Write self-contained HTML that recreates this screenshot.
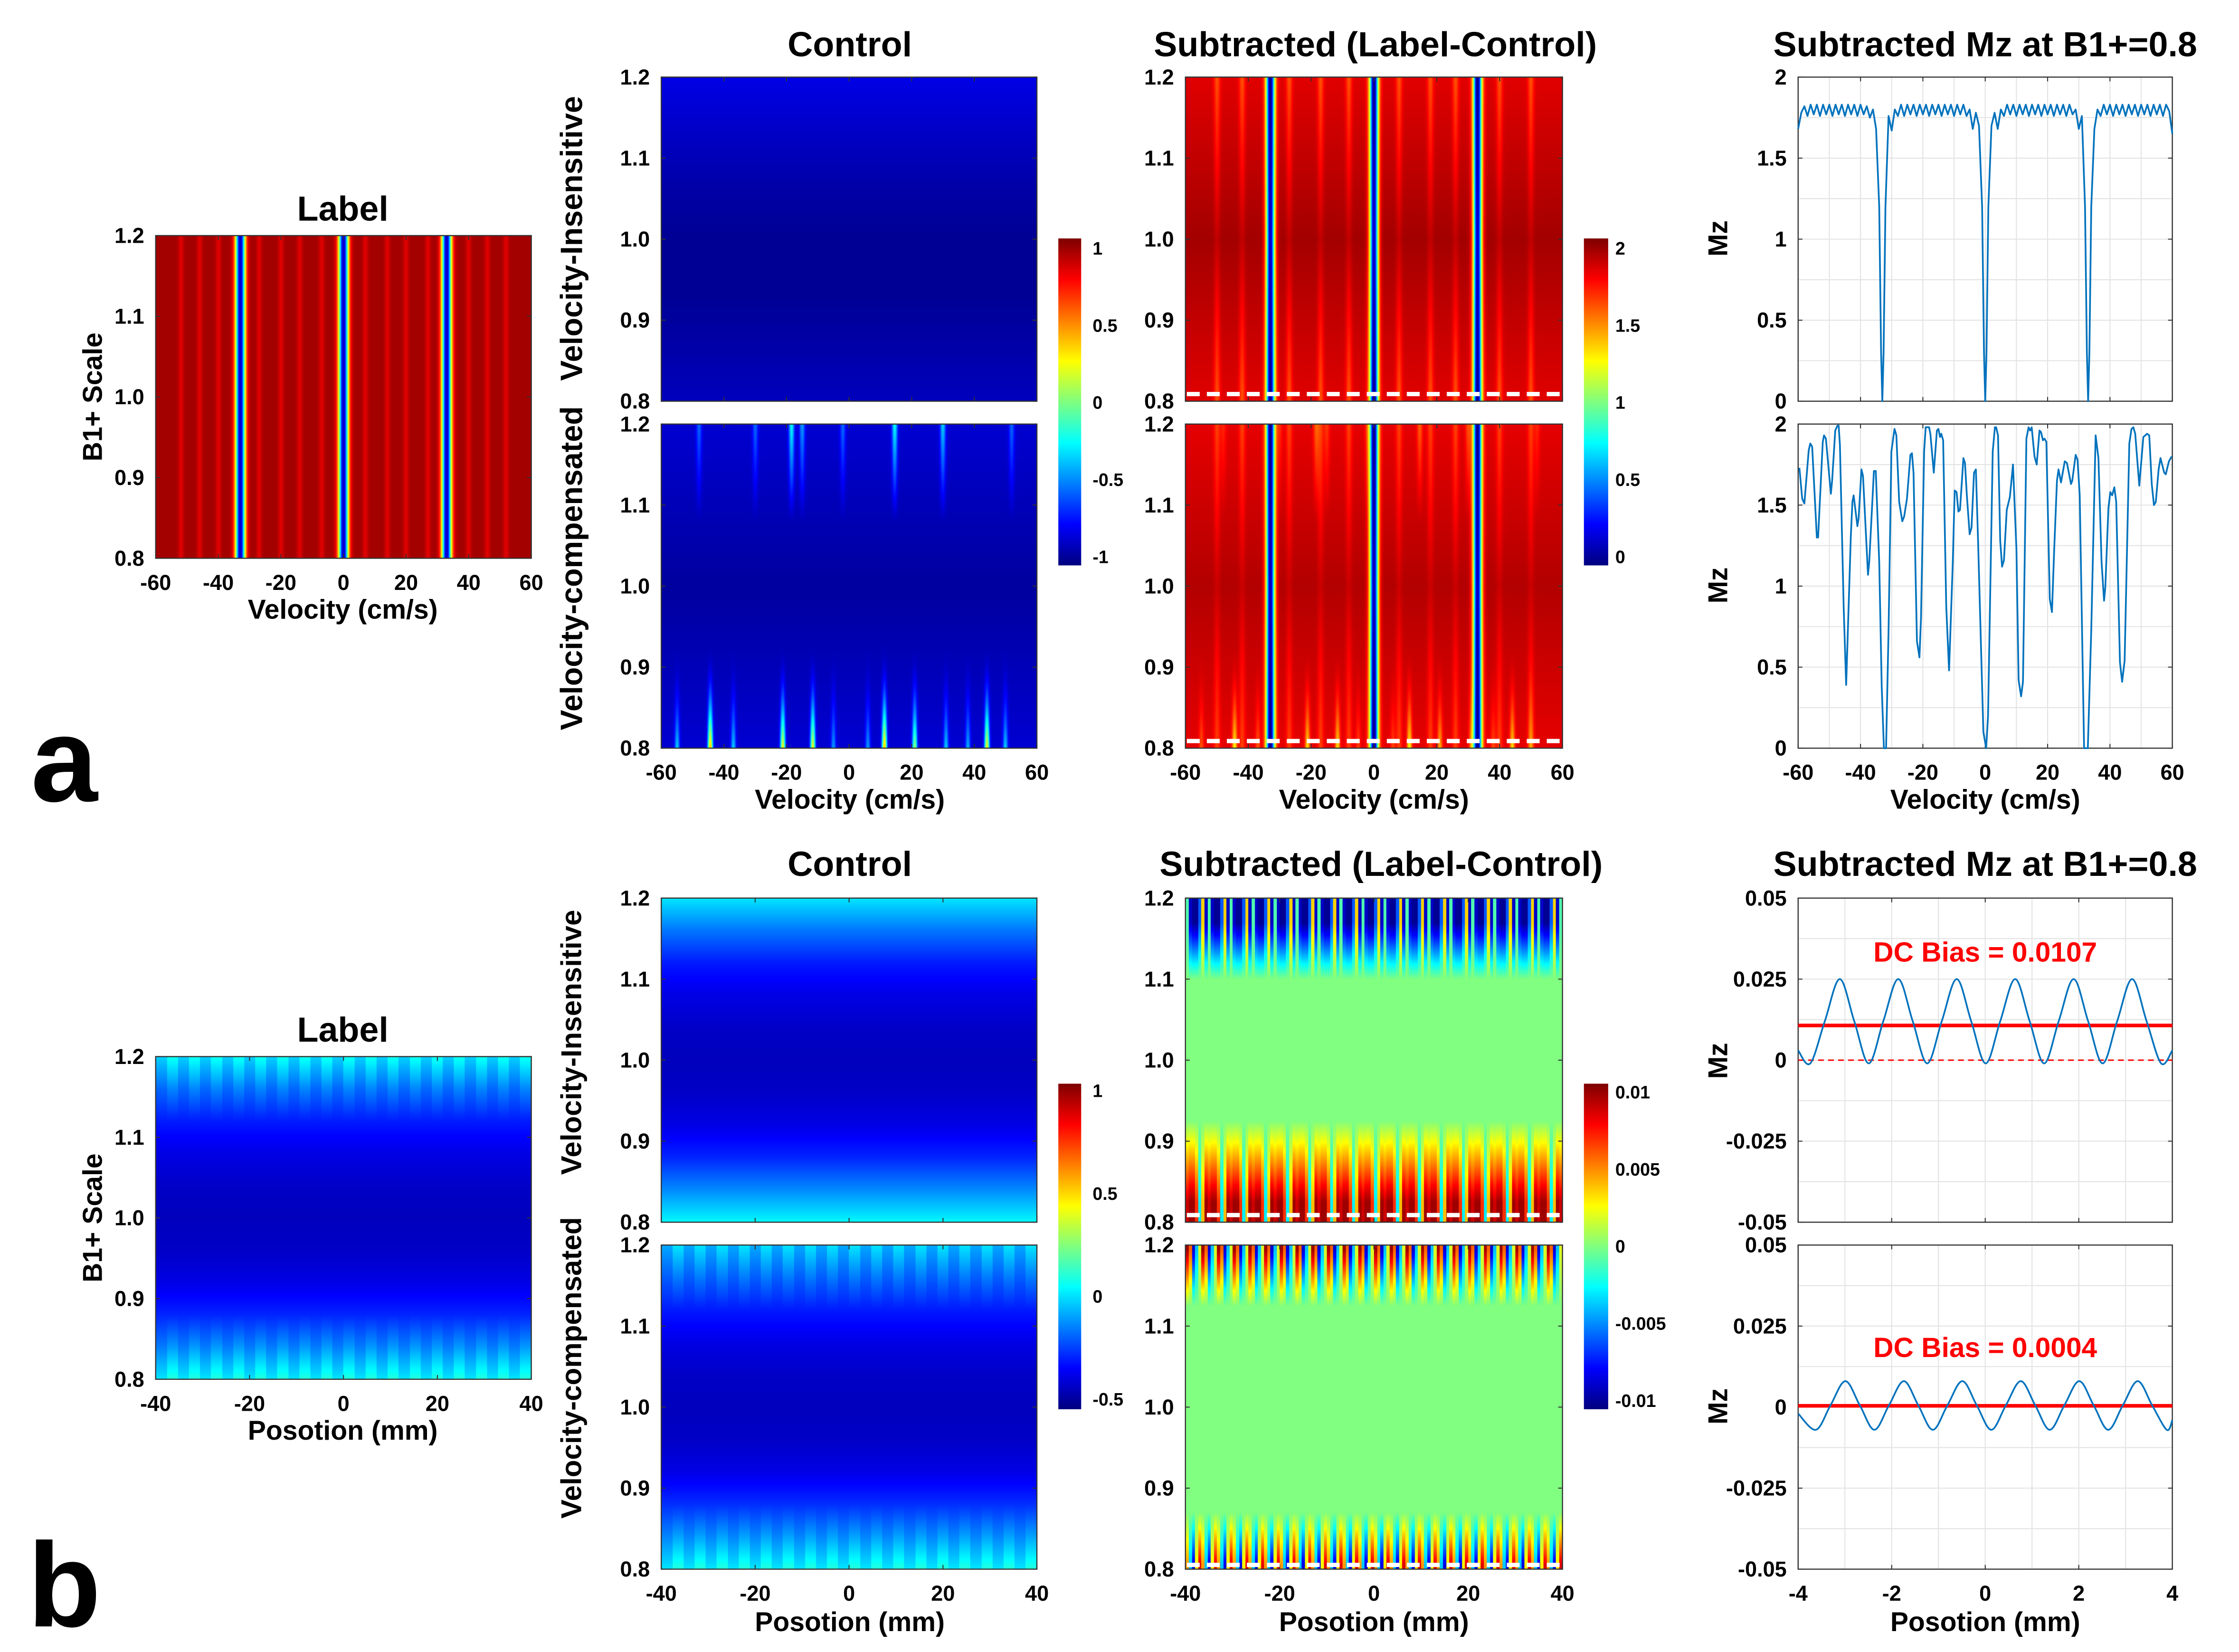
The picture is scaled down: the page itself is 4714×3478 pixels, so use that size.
<!DOCTYPE html>
<html><head><meta charset="utf-8">
<style>
html,body{margin:0;padding:0;background:#fff;overflow:hidden}
#root{position:absolute;left:0;top:0;width:1568px;height:1157px;transform-origin:0 0;transform:scale(3.007,3.006);background:#fff}
canvas{position:absolute}
svg{position:absolute;left:0;top:0}
text{font-family:"Liberation Sans",Arial,sans-serif;font-weight:bold;fill:#000}
</style></head>
<body>
<div id="root">
<svg id="ov" width="1568" height="1157" viewBox="0 0 1568 1157"></svg>
</div>
<script>
// ---------------- data arrays ----------------
const velStripes = [-33, 0, 33];
const labelRipples = [-52,-46,-40,-27,-20,-14,-7,7,14,20,27,40,46,52];
const ctrlTopRows = [0.1,0.07,0.04,0.02,0.02,0.04,0.06];
const ctrlBotSpikePos = [-44.4,-21.2,-11.6,11.3,21.0,44.1,-55,-37,-5,6,31,38,50];
const ctrlBotSpikeAmp = [0.62,0.55,0.55,0.62,0.45,0.55,0.25,0.25,0.2,0.2,0.25,0.22,0.25];
const ctrlTopSpikePos = [-18.4,14.6,30,-15,-48,-30,-2,52];
const ctrlTopSpikeAmp = [0.3,0.3,0.25,0.2,0.15,0.15,0.15,0.15];
const subStreakPos = [-50,-42,-27,-17,-8,8,18,26,40,50];
const bLabelRows = [0.36,0.24,0.15,0.1,0.07,0.06,0.07,0.1,0.16,0.26,0.38];
const bCtrlTopRows = [0.35,0.24,0.15,0.1,0.07,0.06,0.07,0.1,0.16,0.26,0.37];
const bCtrlBotRows = [0.32,0.23,0.15,0.1,0.07,0.06,0.07,0.1,0.17,0.27,0.38];
const bSubTopPatTop = [-0.1,-0.9,-1,-1,-0.6,0.35,-0.9];
const bSubTopPatBot = [0.9,1,1,0.7,-0.3,0.4,1];
const bSubBotPatTop = [1,0.6,-0.9,-0.4,0.2];
const bSubBotPatBot = [0.5,-0.4,-0.9,0.3,0.9];

// line plot data
const aTopX = [-60,-59,-58,-57,-56,-55,-54,-53,-52,-51,-50,-49,-48,-47,-46,-45,-44,-43,-42,-41,-40,-39,-38,-37,-36,-35,-34,-33.4,-33,-32.6,-32,-31,-30,-29,-28,-27,-26,-25,-24,-23,-22,-21,-20,-19,-18,-17,-16,-15,-14,-13,-12,-11,-10,-9,-8,-7,-6,-5,-4,-3,-2,-1,-0.4,0,0.4,1,2,3,4,5,6,7,8,9,10,11,12,13,14,15,16,17,18,19,20,21,22,23,24,25,26,27,28,29,30,31,32,32.6,33,33.4,34,35,36,37,38,39,40,41,42,43,44,45,46,47,48,49,50,51,52,53,54,55,56,57,58,59,60];
const aTopY = [1.68,1.78,1.82,1.76,1.83,1.77,1.83,1.76,1.83,1.77,1.83,1.76,1.83,1.77,1.83,1.76,1.83,1.77,1.83,1.76,1.83,1.77,1.82,1.75,1.80,1.68,1.2,0.3,0,0.3,1.2,1.76,1.67,1.8,1.76,1.83,1.76,1.83,1.77,1.83,1.76,1.83,1.77,1.83,1.76,1.83,1.77,1.83,1.76,1.83,1.77,1.83,1.76,1.83,1.77,1.83,1.76,1.8,1.68,1.78,1.7,1.2,0.3,0,0.3,1.2,1.7,1.78,1.68,1.8,1.76,1.83,1.77,1.83,1.76,1.83,1.77,1.83,1.76,1.83,1.77,1.83,1.76,1.83,1.77,1.83,1.76,1.83,1.77,1.83,1.76,1.83,1.77,1.8,1.68,1.76,1.2,0.3,0,0.3,1.2,1.68,1.8,1.76,1.83,1.77,1.83,1.76,1.83,1.77,1.83,1.76,1.83,1.77,1.83,1.76,1.83,1.77,1.83,1.76,1.83,1.77,1.83,1.76,1.83,1.79,1.65];
const aBotX = [-59.6,-58.7,-58.0,-56.6,-56.1,-55.5,-54.0,-53.6,-52.1,-51.7,-51.1,-49.5,-49.1,-48.1,-47.4,-47.0,-46.6,-45.4,-44.6,-43.1,-42.6,-42.2,-41.0,-40.6,-39.7,-39.2,-37.6,-37.2,-35.7,-35.1,-34.0,-33.2,-32.5,-31.8,-31.0,-30.1,-29.1,-28.5,-27.6,-26.6,-26.0,-25.1,-24.0,-23.5,-23.0,-21.9,-21.1,-20.6,-19.6,-19.1,-18.0,-17.6,-16.5,-15.5,-15.0,-14.5,-14.1,-13.5,-12.5,-11.6,-10.4,-9.8,-9.2,-8.6,-8.1,-7.0,-6.5,-5.9,-5.0,-4.4,-3.6,-3.0,-2.3,-0.6,0.3,0.9,2.4,3.1,3.5,4.1,4.8,5.4,6.0,6.9,7.9,8.9,10.0,10.7,11.5,12.1,13.2,13.9,14.4,14.9,15.8,16.5,17.4,17.9,18.5,19.0,19.6,20.7,21.4,22.1,23.0,23.5,24.3,25.5,26.2,27.5,27.9,29.0,29.6,30.3,31.7,32.9,34.0,35.4,36.3,37.3,38.1,38.5,39.5,40.1,40.7,41.4,42.0,43.2,43.9,44.7,46.2,46.9,47.5,48.1,49.4,50.7,51.9,52.6,53.4,54.1,54.7,55.6,56.2,57.4,57.9,58.9,59.8];
const aBotY = [1.73,1.54,1.51,1.84,1.88,1.86,1.30,1.30,1.89,1.93,1.91,1.57,1.65,1.96,1.99,1.99,1.87,0.87,0.39,1.31,1.52,1.56,1.37,1.42,1.72,1.68,1.07,1.15,1.71,1.71,1.15,0.38,0,0,0.73,1.83,1.97,1.93,1.52,1.40,1.43,1.54,1.81,1.82,1.70,0.66,0.56,0.80,1.83,1.98,1.98,1.94,1.70,1.96,1.97,1.92,1.94,1.90,0.87,0.48,1.15,1.59,1.58,1.46,1.47,1.79,1.76,1.56,1.32,1.36,1.70,1.72,1.28,0.10,0,0.20,1.83,1.98,1.98,1.93,1.28,1.12,1.16,1.47,1.55,1.75,1.23,0.42,0.32,0.41,1.91,1.98,1.96,1.98,1.80,1.75,1.96,1.95,1.90,1.91,1.89,0.92,0.84,1.22,1.65,1.72,1.64,1.77,1.76,1.63,1.65,1.81,1.78,1.56,0,0,0.73,1.93,1.79,1.15,0.91,0.99,1.48,1.58,1.56,1.61,1.52,0.53,0.41,0.54,1.88,1.97,1.98,1.94,1.62,1.92,1.94,1.93,1.63,1.50,1.52,1.72,1.79,1.70,1.69,1.77,1.80];
const bTopX = [-4,-3.74,-3.43,-3.11,-2.80,-2.49,-2.18,-1.86,-1.55,-1.24,-0.93,-0.61,-0.30,0.01,0.32,0.64,0.95,1.26,1.57,1.89,2.20,2.51,2.82,3.14,3.45,3.76,4];
const bTopY = [0.003,-0.001,0.012,0.025,0.012,-0.001,0.012,0.025,0.012,-0.001,0.012,0.025,0.012,-0.001,0.012,0.025,0.012,-0.001,0.012,0.025,0.012,-0.001,0.012,0.025,0.012,-0.001,0.003];
const bBotX = [-4,-3.62,-3.31,-2.99,-2.68,-2.37,-2.06,-1.74,-1.43,-1.12,-0.81,-0.49,-0.18,0.13,0.44,0.76,1.07,1.38,1.69,2.01,2.32,2.63,2.94,3.26,3.57,3.88,4];
const bBotY = [-0.002,-0.007,0.0005,0.008,0.0005,-0.007,0.0005,0.008,0.0005,-0.007,0.0005,0.008,0.0005,-0.007,0.0005,0.008,0.0005,-0.007,0.0005,0.008,0.0005,-0.007,0.0005,0.008,0.0005,-0.007,-0.004];
const dcBias = [0.0107, 0.0004];

const velTicks = [-60,-40,-20,0,20,40,60];
const posTicks = [-40,-20,0,20,40];
const mmTicks = [-4,-2,0,2,4];
const b1Ticks = [0.8,0.9,1.0,1.1,1.2];
const b1Labels = ["0.8","0.9","1.0","1.1","1.2"];
const aMzTicks = [0,0.5,1,1.5,2];
const aMzLabels = ["0","0.5","1","1.5","2"];
const bMzTicks = [-0.05,-0.025,0,0.025,0.05];
const bMzLabels = ["-0.05","-0.025","0","0.025","0.05"];
const cb1Labels = ["1","0.5","0","-0.5","-1"];
const cb2Labels = ["2","1.5","1","0.5","0"];
const cb3Labels = ["1","0.5","0","-0.5"];
const cb4Labels = ["0.01","0.005","0","-0.005","-0.01"];

// ---------------- helpers ----------------
const NS="http://www.w3.org/2000/svg";
const ov=document.getElementById('ov');
const root=document.getElementById('root');
const TICK=15;
function el(tag,attrs,parent){const e=document.createElementNS(NS,tag);for(const k in attrs)e.setAttribute(k,attrs[k]);(parent||ov).appendChild(e);return e;}
function txt(s,x,y,size,anchor,extra){const t=el('text',Object.assign({x:x,y:y,'font-size':size,'text-anchor':anchor||'middle','dominant-baseline':'central'},extra||{}));t.textContent=s;return t;}
function clamp(v){return v<0?0:v>1?1:v;}
function jet(t){t=clamp(t);return [clamp(1.5-Math.abs(4*t-3)),clamp(1.5-Math.abs(4*t-2)),clamp(1.5-Math.abs(4*t-1))];}
function g(d,w){return Math.exp(-(d/w)*(d/w));}
function interpRows(rows,fy){const p=fy*(rows.length-1);const i=Math.min(rows.length-2,Math.floor(p));const f=p-i;return rows[i]*(1-f)+rows[i+1]*f;}

function heat(name,box,xr,fn){
  const S=3;const c=document.createElement('canvas');
  c.width=box.w*S;c.height=box.h*S;
  c.style.left=box.x+'px';c.style.top=box.y+'px';c.style.width=box.w+'px';c.style.height=box.h+'px';
  
  
  root.insertBefore(c,ov);
  const ctx=c.getContext('2d');const img=ctx.createImageData(c.width,c.height);
  for(let j=0;j<c.height;j++){const fy=j/(c.height-1);const y=1.2-0.4*fy;
    for(let i=0;i<c.width;i++){const x=xr[0]+(xr[1]-xr[0])*i/(c.width-1);
      const col=jet(fn(x,y,fy));const k=(j*c.width+i)*4;
      img.data[k]=col[0]*255;img.data[k+1]=col[1]*255;img.data[k+2]=col[2]*255;img.data[k+3]=255;}}
  ctx.putImageData(img,0,0);
}
function axesFrame(name,box,xr,xticks,xlabels,yr,yticks,ylabels,grid,showX){
  const gEl=el('g',{});
  
  
  const sx=v=>box.x+(v-xr[0])/(xr[1]-xr[0])*box.w;
  const sy=v=>box.y+box.h-(v-yr[0])/(yr[1]-yr[0])*box.h;
  if(grid){
    const xs=[];for(let i=0;i<xticks.length-1;i++){xs.push(xticks[i]);xs.push((xticks[i]+xticks[i+1])/2);}
    const ys=[];for(let i=0;i<yticks.length-1;i++){ys.push(yticks[i]);ys.push((yticks[i]+yticks[i+1])/2);}
    xs.forEach(v=>el('line',{x1:sx(v),x2:sx(v),y1:box.y,y2:box.y+box.h,stroke:'#e3e3e3','stroke-width':0.7},gEl));
    ys.forEach(v=>el('line',{x1:box.x,x2:box.x+box.w,y1:sy(v),y2:sy(v),stroke:'#e3e3e3','stroke-width':0.7},gEl));
  }
  el('rect',{x:box.x,y:box.y,width:box.w,height:box.h,fill:'none',stroke:'#333','stroke-width':0.8},gEl);
  xticks.forEach(v=>{el('line',{x1:sx(v),x2:sx(v),y1:box.y+box.h,y2:box.y+box.h-3,stroke:'#333','stroke-width':0.7},gEl);el('line',{x1:sx(v),x2:sx(v),y1:box.y,y2:box.y+3,stroke:'#333','stroke-width':0.7},gEl);});
  yticks.forEach((v,i)=>{el('line',{x1:box.x,x2:box.x+3,y1:sy(v),y2:sy(v),stroke:'#333','stroke-width':0.7},gEl);el('line',{x1:box.x+box.w,x2:box.x+box.w-3,y1:sy(v),y2:sy(v),stroke:'#333','stroke-width':0.7},gEl);
    const t=txt(ylabels[i],box.x-8,sy(v),TICK,'end');});
  if(showX){xticks.forEach((v,i)=>{const t=txt(xlabels[i],sx(v),box.y+box.h+17,TICK,'middle');});}
  return {sx,sy};
}
function smoothPath(xs,ys,sx,sy){
  const P=xs.map((x,i)=>[sx(x),sy(ys[i])]);let d='M'+P[0][0]+','+P[0][1];
  for(let i=0;i<P.length-1;i++){const p0=P[Math.max(0,i-1)],p1=P[i],p2=P[i+1],p3=P[Math.min(P.length-1,i+2)];
    const c1=[p1[0]+(p2[0]-p0[0])/6,p1[1]+(p2[1]-p0[1])/6],c2=[p2[0]-(p3[0]-p1[0])/6,p2[1]-(p3[1]-p1[1])/6];
    d+=' C'+c1[0]+','+c1[1]+' '+c2[0]+','+c2[1]+' '+p2[0]+','+p2[1];}
  return d;
}
function linePlot(name,box,xr,xticks,yr,yticks,ylabels,xs,ys,showX,smooth){
  const a=axesFrame(name+'-axes',box,xr,xticks,xticks.map(String),yr,yticks,ylabels,true,showX);
  const d=smooth?smoothPath(xs,ys,a.sx,a.sy):'M'+xs.map((x,i)=>a.sx(x)+','+a.sy(ys[i])).join(' L');
  const p=el('path',{d:d,fill:'none',stroke:'#0072bd','stroke-width':1.2,'stroke-linejoin':'round'});
  
  
  return a;
}
function colorbar(name,box){
  const S=3;const c=document.createElement('canvas');c.width=box.w*S;c.height=box.h*S;
  c.style.left=box.x+'px';c.style.top=box.y+'px';c.style.width=box.w+'px';c.style.height=box.h+'px';
  
  
  root.insertBefore(c,ov);const ctx=c.getContext('2d');
  for(let j=0;j<c.height;j++){const col=jet(1-j/(c.height-1));ctx.fillStyle='rgb('+Math.round(col[0]*255)+','+Math.round(col[1]*255)+','+Math.round(col[2]*255)+')';ctx.fillRect(0,j,c.width,1);}
}
function cbLabels(x,ys,labels){labels.forEach((l,i)=>{const t=txt(l,x,ys[i],12.5,'start');});}
function dashed(name,x1,x2,y){const l=el('line',{x1:x1,x2:x2,y1:y,y2:y,stroke:'#fff','stroke-width':3,'stroke-dasharray':'9 5'});}

// ---------------- panel a heatmaps ----------------
const A={label:{x:109,y:165,w:263,h:226},cT:{x:463,y:54,w:263,h:227},cB:{x:463,y:297,w:263,h:227},sT:{x:830,y:54,w:264,h:227},sB:{x:830,y:297,w:264,h:227},lT:{x:1259,y:54,w:262,h:227},lB:{x:1259,y:297,w:262,h:227}};
function stripes(x,w){let s=0;velStripes.forEach(c=>s+=g(x-c,w));return s;}
function botSpikes(x,y){const r=clamp((0.93-y)/0.13);let s=0;ctrlBotSpikePos.forEach((c,i)=>s+=ctrlBotSpikeAmp[i]*g(x-c,0.8));return s*r*r;}
function topSpikes(x,y){const r=clamp((y-1.08)/0.12);let s=0;ctrlTopSpikePos.forEach((c,i)=>s+=ctrlTopSpikeAmp[i]*g(x-c,0.9));return s*r;}
heat('label-heatmap-a',A.label,[-60,60],(x,y)=>{let s=0;labelRipples.forEach(c=>s+=g(x-c,0.9));return 0.965-0.06*s-0.9*stripes(x,1.6);});
heat('control-insensitive-heatmap-a',A.cT,[-60,60],(x,y,fy)=>interpRows(ctrlTopRows,fy));
heat('control-compensated-heatmap-a',A.cB,[-60,60],(x,y,fy)=>0.03+0.05*(Math.abs(y-1.0)/0.2)+botSpikes(x,y)+topSpikes(x,y));
heat('subtracted-insensitive-heatmap-a',A.sT,[-60,60],(x,y,fy)=>{let s=0;subStreakPos.forEach(c=>s+=g(x-c,1.0));return 0.965-0.1*s*(0.3+Math.abs(y-1.0)*4)-0.06*Math.abs(y-1.0)*5-0.9*stripes(x,1.4);});
heat('subtracted-compensated-heatmap-a',A.sB,[-60,60],(x,y,fy)=>{let s=0;subStreakPos.forEach(c=>s+=g(x-c,1.0));return 0.95-0.08*s*(0.3+Math.abs(y-1.0)*4)-0.05*Math.abs(y-1.0)*5-0.9*stripes(x,1.4)-0.45*botSpikes(x,y)-0.4*topSpikes(x,y);});
// ---------------- panel b heatmaps ----------------
const B={label:{x:109,y:740,w:263,h:226},cT:{x:463,y:629,w:263,h:227},cB:{x:463,y:872,w:263,h:227},sT:{x:830,y:629,w:264,h:227},sB:{x:830,y:872,w:264,h:227},lT:{x:1259,y:629,w:262,h:227},lB:{x:1259,y:872,w:262,h:227}};
function colIdx(x,n){return Math.floor((x+40)/80*n);}
heat('label-heatmap-b',B.label,[-40,40],(x,y,fy)=>interpRows(bLabelRows,fy)+0.03*((colIdx(x,34)%2)?1:-1)*clamp((Math.abs(y-1)-0.12)/0.08));
heat('control-insensitive-heatmap-b',B.cT,[-40,40],(x,y,fy)=>interpRows(bCtrlTopRows,fy));
heat('control-compensated-heatmap-b',B.cB,[-40,40],(x,y,fy)=>interpRows(bCtrlBotRows,fy)+0.03*((colIdx(x,34)%2)?1:-1)*clamp((Math.abs(y-1)-0.12)/0.08));
heat('subtracted-insensitive-heatmap-b',B.sT,[-40,40],(x,y)=>{const c=colIdx(x,120);const rt=clamp((y-1.1)/0.07),rb=clamp((0.925-y)/0.1);
  return 0.5+0.48*bSubTopPatTop[c%bSubTopPatTop.length]*rt+0.47*bSubTopPatBot[c%bSubTopPatBot.length]*rb;});
heat('subtracted-compensated-heatmap-b',B.sB,[-40,40],(x,y)=>{const c=colIdx(x,120);const rt=clamp((y-1.125)/0.07),rb=clamp((0.87-y)/0.065);
  return 0.5+0.47*bSubBotPatTop[c%bSubBotPatTop.length]*rt+0.45*bSubBotPatBot[c%bSubBotPatBot.length]*rb;});

// colorbars
colorbar('colorbar-control-a',{x:741,y:167,w:16,h:229});
colorbar('colorbar-subtracted-a',{x:1109,y:167,w:17,h:229});
colorbar('colorbar-control-b',{x:741,y:759,w:16,h:228});
colorbar('colorbar-subtracted-b',{x:1109,y:759,w:17,h:228});
cbLabels(765,[174,228,282,336,390],cb1Labels);
cbLabels(1131,[174,228,282,336,390],cb2Labels);
cbLabels(765,[764,836,908,980],cb3Labels);
cbLabels(1131,[765,819,873,927,981],cb4Labels);

// axes for heatmaps
axesFrame('label-axes-a',A.label,[-60,60],velTicks,velTicks.map(String),[0.8,1.2],b1Ticks,b1Labels,false,true);
axesFrame('control-top-axes-a',A.cT,[-60,60],velTicks,[],[0.8,1.2],b1Ticks,b1Labels,false,false);
axesFrame('control-bottom-axes-a',A.cB,[-60,60],velTicks,velTicks.map(String),[0.8,1.2],b1Ticks,b1Labels,false,true);
axesFrame('subtracted-top-axes-a',A.sT,[-60,60],velTicks,[],[0.8,1.2],b1Ticks,b1Labels,false,false);
axesFrame('subtracted-bottom-axes-a',A.sB,[-60,60],velTicks,velTicks.map(String),[0.8,1.2],b1Ticks,b1Labels,false,true);
axesFrame('label-axes-b',B.label,[-40,40],posTicks,posTicks.map(String),[0.8,1.2],b1Ticks,b1Labels,false,true);
axesFrame('control-top-axes-b',B.cT,[-40,40],posTicks,[],[0.8,1.2],b1Ticks,b1Labels,false,false);
axesFrame('control-bottom-axes-b',B.cB,[-40,40],posTicks,posTicks.map(String),[0.8,1.2],b1Ticks,b1Labels,false,true);
axesFrame('subtracted-top-axes-b',B.sT,[-40,40],posTicks,[],[0.8,1.2],b1Ticks,b1Labels,false,false);
axesFrame('subtracted-bottom-axes-b',B.sB,[-40,40],posTicks,posTicks.map(String),[0.8,1.2],b1Ticks,b1Labels,false,true);
dashed('b1-marker-line',831,1094,276);dashed('b1-marker-line',831,1094,519);
dashed('b1-marker-line',831,1094,851);dashed('b1-marker-line',831,1094,1096);

// line plots
linePlot('mz-insensitive-a',A.lT,[-60,60],velTicks,[0,2],aMzTicks,aMzLabels,aTopX,aTopY,false,false);
linePlot('mz-compensated-a',A.lB,[-60,60],velTicks,[0,2],aMzTicks,aMzLabels,aBotX,aBotY,true,false);
const pb1=axesFrame('mz-insensitive-b-axes',B.lT,[-4,4],mmTicks,[],[-0.05,0.05],bMzTicks,bMzLabels,true,false);
let r1=el('line',{x1:B.lT.x,x2:B.lT.x+B.lT.w,y1:pb1.sy(0),y2:pb1.sy(0),stroke:'#f00','stroke-width':1,'stroke-dasharray':'4 3'});

let r2=el('line',{x1:B.lT.x,x2:B.lT.x+B.lT.w,y1:pb1.sy(dcBias[0]),y2:pb1.sy(dcBias[0]),stroke:'#f00','stroke-width':2.5});

let p1=el('path',{d:smoothPath(bTopX,bTopY,pb1.sx,pb1.sy),fill:'none',stroke:'#0072bd','stroke-width':1.2});

const pb2=axesFrame('mz-compensated-b-axes',B.lB,[-4,4],mmTicks,mmTicks.map(String),[-0.05,0.05],bMzTicks,bMzLabels,true,true);
let r3=el('line',{x1:B.lB.x,x2:B.lB.x+B.lB.w,y1:pb2.sy(dcBias[1]),y2:pb2.sy(dcBias[1]),stroke:'#f00','stroke-width':2.5});

let p2=el('path',{d:smoothPath(bBotX,bBotY,pb2.sx,pb2.sy),fill:'none',stroke:'#0072bd','stroke-width':1.2});


// texts
function T(name,s,x,y,size,anchor,rot,color){const t=txt(s,x,y,size,anchor||'middle',rot?{transform:'rotate(-90 '+x+' '+y+')'}:{});if(color)t.setAttribute('style','fill:'+color);return t;}
T('panel-letter-a','a',45,532,84);T('panel-letter-b','b',45,1110,84);
T('title-label-a','Label',240,146,24.5);T('title-label-b','Label',240,721,24.5);
T('title-control-a','Control',595,31,24.5);T('title-control-b','Control',595,605,24.5);
T('title-subtracted-a','Subtracted (Label-Control)',963,31,24.5);T('title-subtracted-b','Subtracted (Label-Control)',967,605,24.5);
T('title-mz-a','Subtracted Mz at B1+=0.8',1390,31,24.5);T('title-mz-b','Subtracted Mz at B1+=0.8',1390,605,24.5);
T('x-axis-title','Velocity (cm/s)',240,427,19);T('x-axis-title','Velocity (cm/s)',595,560,19);T('x-axis-title','Velocity (cm/s)',962,560,19);T('x-axis-title','Velocity (cm/s)',1390,560,19);
T('x-axis-title','Posotion (mm)',240,1002,19);T('x-axis-title','Posotion (mm)',595,1136,19);T('x-axis-title','Posotion (mm)',962,1136,19);T('x-axis-title','Posotion (mm)',1390,1136,19);
T('y-axis-title','B1+ Scale',65,278,19,'middle',true);T('y-axis-title','B1+ Scale',65,853,19,'middle',true);
T('row-label','Velocity-Insensitive',400,167,21.5,'middle',true);T('row-label','Velocity-compensated',400,398,21.5,'middle',true);
T('row-label','Velocity-Insensitive',400,730,20,'middle',true);T('row-label','Velocity-compensated',400,958,20,'middle',true);
T('y-axis-title','Mz',1203,167,19,'middle',true);T('y-axis-title','Mz',1203,410,19,'middle',true);
T('y-axis-title','Mz',1203,743,19,'middle',true);T('y-axis-title','Mz',1203,985,19,'middle',true);
T('dc-bias-label','DC Bias = '+dcBias[0].toFixed(4),1390,667,19.5,'middle',false,'#f00');
T('dc-bias-label','DC Bias = '+dcBias[1].toFixed(4),1390,944,19.5,'middle',false,'#f00');
</script>
</body></html>
